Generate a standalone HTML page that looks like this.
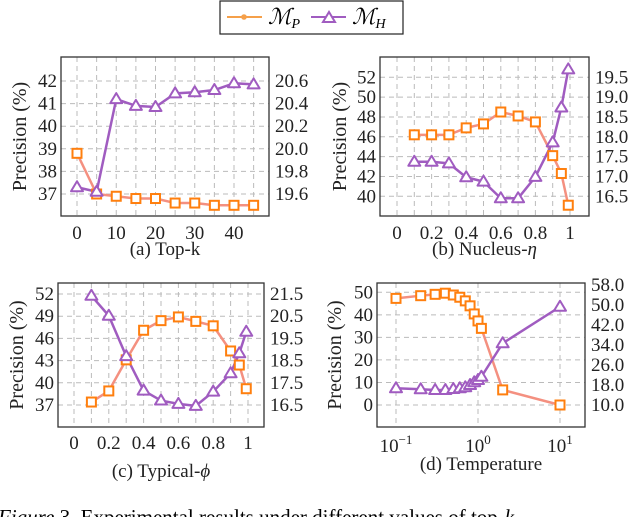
<!DOCTYPE html>
<html><head><meta charset="utf-8"><style>
body{margin:0;background:#fff;}
svg{display:block;}
svg text{font-family:"Liberation Serif","DejaVu Serif",serif;}
</style></head><body>
<svg id="chart" width="640" height="517" viewBox="0 0 640 517" xmlns="http://www.w3.org/2000/svg">
<g>
<rect x="220" y="1" width="183" height="33" fill="#fff" stroke="#222" stroke-width="1.2"/>
<g>
<line x1="227" y1="17" x2="262" y2="17" stroke="#f5a04a" stroke-width="2"/>
<circle cx="244" cy="17" r="2.8" fill="#f5a04a"/>
<text x="268" y="24" font-size="22" font-style="italic">ℳ<tspan font-size="14" dy="4">P</tspan></text>
</g>
<g>
<line x1="311" y1="17" x2="346" y2="17" stroke="#a05cc0" stroke-width="2"/>
<polygon points="323,22 335,22 329,12" fill="#fff" stroke="#a05cc0" stroke-width="2"/>
<text x="352" y="24" font-size="22" font-style="italic">ℳ<tspan font-size="14" dy="4">H</tspan></text>
</g>
</g>
<text x="-2" y="524" font-size="21"><tspan font-style="italic">Figure</tspan> 3. Experimental results under different values of top-<tspan font-style="italic">k</tspan></text>
</svg>
<script>
// Panel (a) Top-k
const aX = [0,5,10,15,20,25,30,35,40,45];
const aP = [38.8,37.0,36.9,36.8,36.8,36.6,36.6,36.5,36.5,36.5];
const aH = [19.66,19.62,20.44,20.38,20.37,20.49,20.50,20.52,20.58,20.57];
const aXTicks = [0,10,20,30,40];
const aYLTicks = [37,38,39,40,41,42];
const aYRTicks = [19.6,19.8,20.0,20.2,20.4,20.6];
// Panel (b) Nucleus
const bX = [0.1,0.2,0.3,0.4,0.5,0.6,0.7,0.8,0.9,0.95,0.99];
const bP = [46.2,46.2,46.2,46.9,47.3,48.5,48.1,47.5,44.1,42.3,39.1];
const bH = [17.37,17.37,17.33,16.98,16.87,16.45,16.45,16.99,17.86,18.74,19.70];
const bXTicks = [0,0.2,0.4,0.6,0.8,1];
const bXTickLabels = ["0","0.2","0.4","0.6","0.8","1"];
const bYLTicks = [40,42,44,46,48,50,52];
const bYRTicks = [16.5,17.0,17.5,18.0,18.5,19.0,19.5];
// Panel (c) Typical
const cX = [0.1,0.2,0.3,0.4,0.5,0.6,0.7,0.8,0.9,0.95,0.99];
const cP = [37.4,38.9,43.1,47.1,48.4,48.9,48.3,47.7,44.3,42.4,39.2];
const cH = [21.42,20.52,18.7,17.15,16.7,16.55,16.46,17.1,17.93,18.83,19.8];
const cXTicks = [0,0.2,0.4,0.6,0.8,1];
const cXTickLabels = ["0","0.2","0.4","0.6","0.8","1"];
const cYLTicks = [37,40,43,46,49,52];
const cYRTicks = [16.5,17.5,18.5,19.5,20.5,21.5];
// Panel (d) Temperature
const dX = [0.1,0.2,0.3,0.4,0.5,0.6,0.7,0.8,0.9,1.0,1.1,2,10];
const dP = [47.3,48.5,49.1,49.6,48.8,47.8,46.2,44.0,40.4,37.3,34.0,6.7,0.0];
const dH = [16.7,16.3,16.0,16.0,16.4,16.7,17.1,18.0,19.1,20.0,21.3,34.7,49.3];
const dXTicks = [0.1,1,10];
const dYLTicks = [0,10,20,30,40,50];
const dYRTicks = [10,18,26,34,42,50,58];

const NS = "http://www.w3.org/2000/svg";
const svg = document.getElementById("chart");
const OR = "#f49080", ORM = "#ff7f0e", PU = "#a05cc0";
const TF = 19;
function mk(tag, attrs, parent){
  const e = document.createElementNS(NS, tag);
  for (const k in attrs) e.setAttribute(k, attrs[k]);
  (parent||svg).appendChild(e);
  return e;
}
function lin(v0,p0,v1,p1){ return v => p0 + (v - v0)*(p1 - p0)/(v1 - v0); }

function panel(cfg){
  const g = mk("g", {});
  
  
  const [L,T,R,B] = cfg.box;
  cfg.vgrid.forEach(v => {
    const x = cfg.sx(v);
    const l = mk("line",{x1:x,x2:x,y1:T,y2:B,stroke:"#bbb","stroke-width":1,"stroke-dasharray":"5,4"},g);
    
    
  });
  cfg.yLTicks.forEach(v => {
    const y = cfg.syL(v);
    const l = mk("line",{x1:L,x2:R,y1:y,y2:y,stroke:"#bbb","stroke-width":1,"stroke-dasharray":"5,4"},g);
    
    
    const t = mk("text",{x:L-4,y:y+6,"font-size":TF,"text-anchor":"end",fill:"#222"},g);
    t.textContent = String(v);
    
    
  });
  cfg.yRTicks.forEach(v => {
    const y = cfg.syR(v);
    const t = mk("text",{x:R+6,y:y+6,"font-size":TF,"text-anchor":"start",fill:"#222"},g);
    t.textContent = v.toFixed(1);
    
    
  });
  cfg.xTicks.forEach((v,i) => {
    const x = cfg.sx(v);
    const t = mk("text",{x:x,y:cfg.xlabY,"font-size":TF,"text-anchor":"middle",fill:"#222"},g);
    
    
    if (cfg.log) {
      const e = Math.round(Math.log10(v));
      t.textContent = "10";
      const s = mk("tspan",{"font-size":13,dy:-8},t);
      s.textContent = e < 0 ? "\u2212" + (-e) : String(e);
    } else t.textContent = cfg.xTickLabels ? cfg.xTickLabels[i] : String(v);
  });
  const box = mk("rect",{x:L,y:T,width:R-L,height:B-T,fill:"none",stroke:"#333","stroke-width":1.3},g);
  
  
  const yt = mk("text",{x:0,y:0,"font-size":20,"text-anchor":"middle",fill:"#222",transform:`translate(${cfg.ytX},${(T+B)/2}) rotate(-90)`},g);
  yt.textContent = "Precision (%)";
  
  
  const cap = mk("text",{x:(L+R)/2,y:cfg.capY,"font-size":19,"text-anchor":"middle",fill:"#222"},g);
  cap.innerHTML = cfg.caption;
  
  
  const pP = cfg.xs.map((v,i)=>[cfg.sx(v), cfg.syL(cfg.P[i])]);
  const lp = mk("polyline",{points:pP.map(p=>p.join(",")).join(" "),fill:"none",stroke:OR,"stroke-width":2.5,"stroke-linejoin":"round"},g);
  
  
  const pH = cfg.xs.map((v,i)=>[cfg.sx(v), cfg.syR(cfg.H[i])]);
  const lh = mk("polyline",{points:pH.map(p=>p.join(",")).join(" "),fill:"none",stroke:PU,"stroke-width":2.5,"stroke-linejoin":"round"},g);
  
  
  pP.forEach(([x,y]) => {
    const m = mk("rect",{x:x-4.5,y:y-4.5,width:9,height:9,fill:"#fff",stroke:ORM,"stroke-width":2},g);
    
    
  });
  pH.forEach(([x,y]) => {
    const m = mk("polygon",{points:`${x-6},${y+4} ${x+6},${y+4} ${x},${y-6}`,fill:"#fff",stroke:PU,"stroke-width":2,"stroke-linejoin":"round"},g);
    
    
  });
}

const step = (a,b,s) => { const r=[]; for(let v=a; v<=b+1e-9; v+=s) r.push(+v.toFixed(3)); return r; };

panel({name:"panel-top-k", box:[61,57,269,216], sx:lin(0,77,40,234), syL:lin(37,194,42,81), syR:lin(19.6,194,20.6,81),
  xs:aX, P:aP, H:aH, xTicks:aXTicks, yLTicks:aYLTicks, yRTicks:aYRTicks, vgrid:step(0,45,5),
  xlabY:239, capY:255, ytX:26, caption:"(a) Top-k"});
panel({name:"panel-nucleus", box:[380,57,589,216], sx:lin(0,397,1,570), syL:lin(40,196.3,52,77.3), syR:lin(16.5,196.3,19.5,77.3),
  xs:bX, P:bP, H:bH, xTicks:bXTicks, xTickLabels:bXTickLabels, yLTicks:bYLTicks, yRTicks:bYRTicks, vgrid:step(0,1,0.1),
  xlabY:239, capY:255, ytX:346, caption:"(b) Nucleus-<tspan font-style='italic'>η</tspan>"});
panel({name:"panel-typical", box:[58,283,264,427], sx:lin(0,74,1,248), syL:lin(37,405,52,294), syR:lin(16.5,405,21.5,294),
  xs:cX, P:cP, H:cH, xTicks:cXTicks, xTickLabels:cXTickLabels, yLTicks:cYLTicks, yRTicks:cYRTicks, vgrid:step(0,1,0.1),
  xlabY:449, capY:477, ytX:23, caption:"(c) Typical-<tspan font-style='italic'>ϕ</tspan>"});
panel({name:"panel-temperature", box:[377,283,585,427], log:true,
  sx:(v => lin(-1,396,1,560)(Math.log10(v))), syL:lin(0,405,50,292.3), syR:lin(10,405,50,305),
  xs:dX, P:dP, H:dH, xTicks:dXTicks, yLTicks:dYLTicks, yRTicks:dYRTicks, vgrid:dXTicks,
  xlabY:452, capY:470, ytX:341, caption:"(d) Temperature"});
</script>
</body></html>
